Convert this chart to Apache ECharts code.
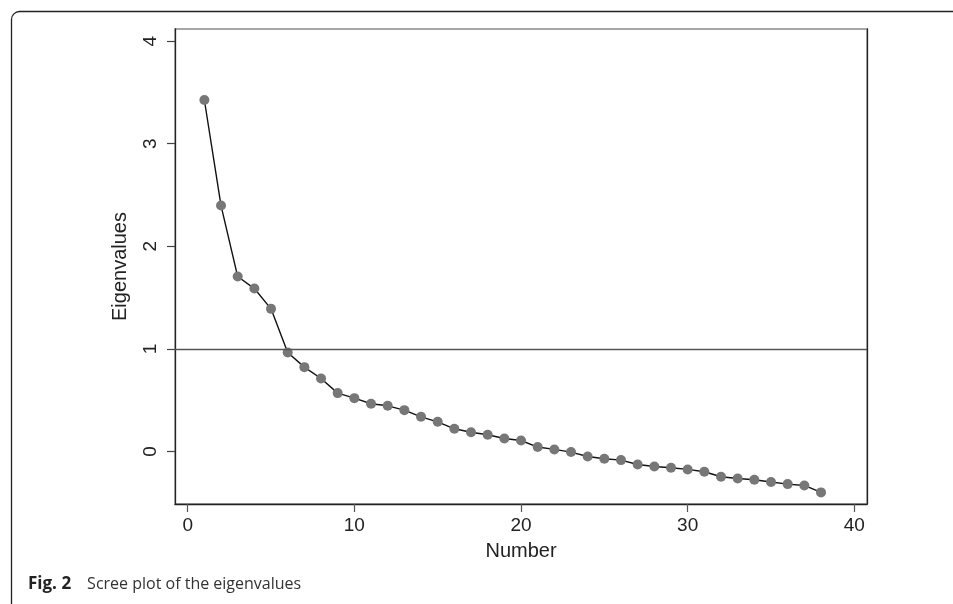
<!DOCTYPE html>
<html>
<head>
<meta charset="utf-8">
<script src="https://cdn.jsdelivr.net/npm/echarts@6/dist/echarts.min.js"></script>
<style>
html,body{margin:0;padding:0;background:#fff;}
#chart{width:953px;height:604px;}
</style>
</head>
<body>
<div id="chart"></div>
<script>
const componentNumbers = [1,2,3,4,5,6,7,8,9,10,11,12,13,14,15,16,17,18,19,20,21,22,23,24,25,26,27,28,29,30,31,32,33,34,35,36,37,38];
const eigenvalues = [3.426,2.397,1.705,1.588,1.390,0.965,0.822,0.711,0.569,0.520,0.465,0.445,0.403,0.338,0.289,0.221,0.187,0.163,0.127,0.107,0.043,0.020,-0.006,-0.049,-0.071,-0.084,-0.127,-0.146,-0.159,-0.175,-0.198,-0.246,-0.263,-0.276,-0.298,-0.318,-0.331,-0.399];
const xTicks = [0,10,20,30,40];
const yTicks = [0,1,2,3,4];
const referenceLevel = 1;
const xTitle = 'Number';
const yTitle = 'Eigenvalues';
const captionBold = 'Fig. 2';
const captionText = 'Scree plot of the eigenvalues';

const points = componentNumbers.map((n, i) => [n, eigenvalues[i]]);
const axisFont = '"Liberation Sans", Arial, Helvetica, sans-serif';

const chart = echarts.init(document.getElementById('chart'), null, {renderer: 'canvas'});
chart.setOption({
  animation: false,
  backgroundColor: '#fff',
  grid: {left: 175, right: 86, top: 29, bottom: 100, show: true, borderColor: '#8a8a8a', borderWidth: 1.3, containLabel: false},
  xAxis: {
    type: 'value', min: -0.762, max: 40.76,
    name: xTitle, nameLocation: 'middle', nameGap: 37,
    nameTextStyle: {fontFamily: axisFont, fontSize: 20, color: '#222'},
    axisLine: {show: true, onZero: false, lineStyle: {color: '#222', width: 1.3}},
    axisTick: {show: true, length: 8, customValues: xTicks, lineStyle: {color: '#555', width: 1.2}},
    axisLabel: {customValues: xTicks, margin: 12, fontFamily: axisFont, fontSize: 19, color: '#222'},
    splitLine: {show: false}
  },
  yAxis: [{
    type: 'value', min: -0.512, max: 4.118,
    name: yTitle, nameLocation: 'middle', nameGap: 45,
    nameTextStyle: {fontFamily: axisFont, fontSize: 20, color: '#222'},
    axisLine: {show: true, onZero: false, lineStyle: {color: '#222', width: 1.3}},
    axisTick: {show: true, length: 8, customValues: yTicks, lineStyle: {color: '#444', width: 1.2}},
    axisLabel: {customValues: yTicks, rotate: 90, margin: 15, fontFamily: axisFont, fontSize: 19, color: '#222'},
    splitLine: {show: false}
  }, {
    type: 'value', position: 'right', min: -0.512, max: 4.118,
    axisLine: {show: true, onZero: false, lineStyle: {color: '#222', width: 1.3}},
    axisTick: {show: false}, axisLabel: {show: false}, splitLine: {show: false}
  }],
  series: [{
    type: 'line',
    data: points,
    symbol: 'circle', symbolSize: 10,
    lineStyle: {color: '#111', width: 1.4},
    itemStyle: {color: '#777777'},
    z: 3,
    markLine: {
      silent: true, symbol: 'none', label: {show: false},
      lineStyle: {color: '#555', width: 1.4, type: 'solid'},
      data: [{yAxis: referenceLevel}]
    }
  }],
  graphic: [
    {type: 'rect', shape: {x: 11.5, y: 11.5, width: 1200, height: 900, r: 8}, style: {fill: 'none', stroke: '#222', lineWidth: 1.3}, z: 0},
    {type: 'text', left: 28, top: 576, style: {
      text: '{b|' + captionBold + '}{n|' + captionText + '}',
      rich: {
        b: {fontFamily: '"Open Sans", "Noto Sans", sans-serif', fontWeight: 'bold', fontSize: 17, fill: '#222'},
        n: {fontFamily: '"Open Sans", "Noto Sans", sans-serif', fontSize: 16, fill: '#333', padding: [0, 0, 0, 16]}
      }
    }}
  ]
});
</script>
</body>
</html>
